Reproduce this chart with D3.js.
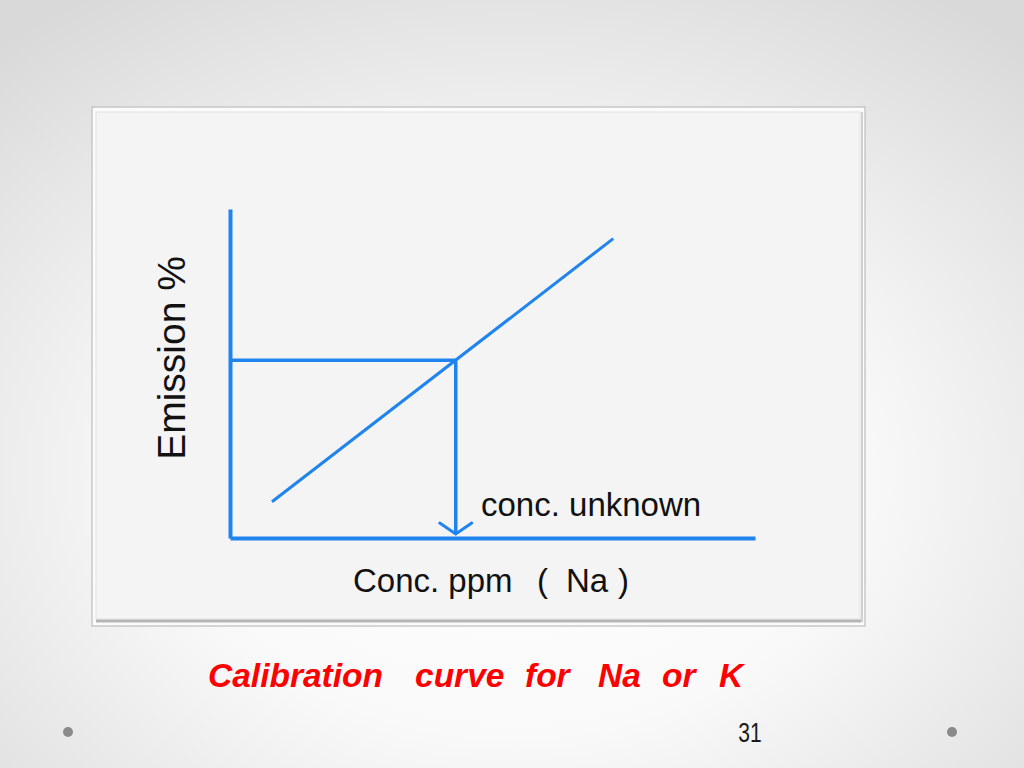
<!DOCTYPE html>
<html>
<head>
<meta charset="utf-8">
<script src="https://cdn.jsdelivr.net/npm/d3@7"></script>
<style>
  html, body { margin: 0; padding: 0; overflow: hidden; }
  text { font-family: "Liberation Sans", Arial, sans-serif; }
</style>
</head>
<body>
<div id="slide"></div>
<script>
(function() {
  var width = 1024,
      height = 768;

  // calibration line (conc. in ppm, emission in %)
  const calConc = [0.8, 7.3];
  const calEmission = [11, 91];
  // the unknown sample
  const unknownConc = [4.3];
  const unknownEmission = [54];
  // axis extents
  const concDomain = [0, 10];
  const emissionDomain = [0, 100];
  // text
  const yLabel = "Emission %";
  const xLabel = ["Conc. ppm", "(", "Na", ")"];
  const unknownLabel = "conc. unknown";
  const titleWords = ["Calibration", "curve", "for", "Na", "or", "K"];
  const pageNumber = "31";

  const blue = "#1f84ee";

  const svg = d3.select("#slide").append("svg")
                .attr("width", width)
                .attr("height", height);

  // slide background
  const defs = svg.append("defs");
  const grad = defs.append("radialGradient")
                   .attr("id", "bg")
                   .attr("cx", "50%").attr("cy", "62%").attr("r", "75%");
  grad.append("stop").attr("offset", "0%").attr("stop-color", "#ffffff");
  grad.append("stop").attr("offset", "45%").attr("stop-color", "#f9f9f9");
  grad.append("stop").attr("offset", "100%").attr("stop-color", "#d9d9d9");
  svg.append("rect").attr("width", width).attr("height", height).attr("fill", "url(#bg)");

  // picture frame
  svg.append("rect").attr("x", 92).attr("y", 107).attr("width", 773).attr("height", 519)
     .attr("fill", "#fbfbfb").attr("stroke", "#c8c8c8").attr("stroke-width", 1.5);
  svg.append("rect").attr("x", 96).attr("y", 112).attr("width", 764).attr("height", 507)
     .attr("fill", "#f4f4f4").attr("stroke", "#e2e2e2").attr("stroke-width", 1);
  svg.append("line").attr("x1", 96).attr("x2", 861).attr("y1", 621).attr("y2", 621)
     .attr("stroke", "#b5b5b5").attr("stroke-width", 3);
  svg.append("line").attr("x1", 862).attr("x2", 862).attr("y1", 112).attr("y2", 622)
     .attr("stroke", "#d0d0d0").attr("stroke-width", 2);

  // scales
  var x = d3.scaleLinear().domain(concDomain).range([230, 755]);
  var y = d3.scaleLinear().domain(emissionDomain).range([538, 209]);

  const g = svg.append("g");

  // axes (plain lines, no ticks)
  g.append("g")
   .attr("transform", "translate(0," + y(0) + ")")
   .call(d3.axisBottom(x).ticks(0).tickSizeOuter(0))
   .select(".domain")
   .attr("stroke", blue).attr("stroke-width", 4);
  g.append("g")
   .attr("transform", "translate(" + x(0) + ",0)")
   .call(d3.axisLeft(y).ticks(0).tickSizeOuter(0))
   .select(".domain")
   .attr("stroke", blue).attr("stroke-width", 4);

  // calibration line
  const pts = calConc.map((c, i) => [c, calEmission[i]]);
  g.append("path")
   .datum(pts)
   .attr("d", d3.line().x(d => x(d[0])).y(d => y(d[1])))
   .attr("fill", "none")
   .attr("stroke", blue)
   .attr("stroke-width", 3);

  // read-off lines for the unknown
  const ux = x(unknownConc[0]), uy = y(unknownEmission[0]);
  g.append("line")
   .attr("x1", x(0)).attr("x2", ux).attr("y1", uy).attr("y2", uy)
   .attr("stroke", blue).attr("stroke-width", 3.5);
  g.append("line")
   .attr("x1", ux).attr("x2", ux).attr("y1", uy).attr("y2", y(0) - 4)
   .attr("stroke", blue).attr("stroke-width", 3.5);
  g.append("path")
   .attr("d", "M" + (ux - 16) + "," + (y(0) - 15) + "L" + ux + "," + (y(0) - 4) + "L" + (ux + 16) + "," + (y(0) - 15))
   .attr("fill", "none").attr("stroke", blue).attr("stroke-width", 3).attr("stroke-linecap", "round");

  // labels
  svg.append("text")
     .attr("transform", "translate(185,358) rotate(-90)")
     .attr("text-anchor", "middle")
     .attr("font-size", 39)
     .attr("fill", "#111")
     .text(yLabel);

  svg.append("text")
     .attr("x", 481).attr("y", 516)
     .attr("font-size", 33)
     .attr("fill", "#111")
     .text(unknownLabel);

  const xl = svg.append("text").attr("y", 592).attr("font-size", 33).attr("fill", "#111");
  const xlPos = [353, 537, 566, 618];
  xLabel.forEach((t, i) => xl.append("tspan").attr("x", xlPos[i]).text(t));

  // title
  const title = svg.append("text")
     .attr("y", 687)
     .attr("font-size", 33.5)
     .attr("font-weight", "bold")
     .attr("font-style", "italic")
     .attr("fill", "#ff0000");
  const titlePos = [208, 415, 525, 598, 662, 719];
  titleWords.forEach((t, i) => title.append("tspan").attr("x", titlePos[i]).text(t));

  // page number and corner dots
  svg.append("text")
     .attr("transform", "translate(750,742) scale(0.78,1)")
     .attr("text-anchor", "middle")
     .attr("font-size", 27)
     .attr("font-family", "'Liberation Sans Narrow', 'DejaVu Sans Condensed', sans-serif")
     .attr("fill", "#1a1a1a")
     .text(pageNumber);

  svg.selectAll("circle.dot")
     .data([68, 952])
     .join("circle")
     .attr("class", "dot")
     .attr("cx", d => d).attr("cy", 732).attr("r", 5)
     .attr("fill", "#8a8a8a");
})();
</script>
</body>
</html>
